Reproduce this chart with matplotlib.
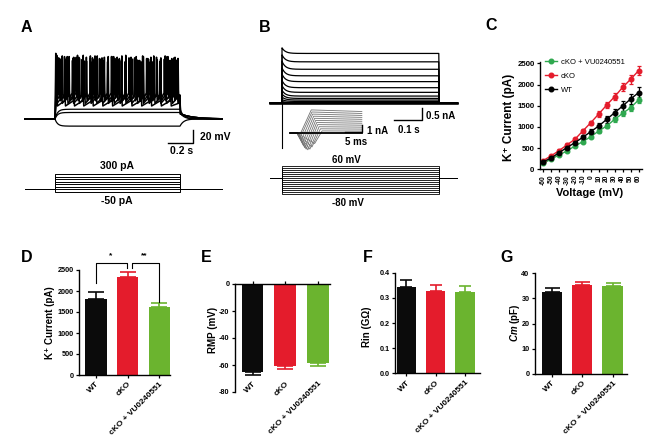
import numpy as np
import matplotlib.pyplot as plt
from matplotlib.lines import Line2D

plt.rcParams['font.family'] = ['Liberation Sans', 'DejaVu Sans']
plt.rcParams['font.weight'] = 'bold'
plt.rcParams['mathtext.fontset'] = 'custom'
plt.rcParams['mathtext.it'] = 'Liberation Sans:italic:bold'
plt.rcParams['mathtext.rm'] = 'Liberation Sans:bold'
plt.rcParams['axes.linewidth'] = 1.0

W, H = 666, 446
fig = plt.figure(figsize=(W / 100, H / 100), dpi=100)

# ---------------- data ----------------
groups = ['WT', 'cKO', 'cKO + VU0240551']
bar_colors = ['#0b0b0b', '#e41c2c', '#6bb42f']

# A: current clamp, steps of injected current (pA) and responses (mV)
a_steps_pA = [-50, 0, 50, 100, 150, 200, 250, 300]
a_rest_mV = -70
a_sub_mV = [-81, -60, -55]          # subthreshold responses
sp300_ms = [6, 30, 58, 84, 113, 140, 170, 196, 226, 252, 283, 310, 338, 367, 395, 421, 452, 479,
            508, 535, 565, 592, 620, 650, 677, 706, 733, 762, 790, 818, 847, 875, 903, 931, 960, 985]
pk300_mV = [31, 24, 27, 22, 26, 20, 25, 23, 28, 19, 24, 21, 27, 22, 25, 18, 26, 23,
            21, 27, 19, 24, 22, 26, 20, 25, 23, 18, 27, 21, 24, 22, 26, 20, 25, 23]
sp250_ms = [8, 40, 76, 110, 146, 180, 214, 251, 287, 320, 356, 392, 426, 461, 497, 531, 566,
            602, 637, 671, 707, 742, 776, 812, 846, 881, 917, 952, 983]
pk250_mV = [30, 22, 26, 19, 24, 28, 21, 25, 18, 27, 23, 20, 26, 22, 25, 19, 28,
            21, 24, 20, 26, 23, 18, 25, 22, 27, 20, 24, 23]
sp200_ms = [10, 52, 98, 143, 190, 236, 283, 329, 376, 422, 469, 515, 562, 608, 655, 701, 748,
            794, 841, 887, 934, 978]
pk200_mV = [29, 23, 26, 21, 25, 19, 27, 22, 24, 20, 26, 23, 18, 25, 21, 27, 22,
            24, 19, 26, 23, 21]
sp150_ms = [14, 78, 150, 224, 300, 377, 455, 532, 610, 688, 767, 845, 924]
pk150_mV = [28, 22, 25, 20, 24, 19, 26, 21, 23, 18, 25, 22, 20]
ahp_mV = [-38, -42, -46, -50]

# B: voltage clamp, steps (mV) and K+ currents (nA)
b_steps_mV = [-80, -70, -60, -50, -40, -30, -20, -10, 0, 10, 20, 30, 40, 50, 60]
b_ss_nA = [0.0, 0.0, 0.01, 0.03, 0.08, 0.14, 0.21, 0.31, 0.47, 0.67, 0.93, 1.18, 1.46, 1.78, 2.14]
b_peak_nA = [0.0, 0.0, 0.03, 0.08, 0.16, 0.27, 0.40, 0.56, 0.76, 0.98, 1.25, 1.52, 1.80, 2.08, 2.38]
b_cap_nA = -1.92
# B inset (first ms of the steps)
ins_plateau_nA = [3.3, 3.0, 2.7, 2.4, 2.1, 1.8, 1.5, 1.2, 0.9, 0.6, 0.3]
ins_dip_nA = [-0.3, -0.6, -1.0, -1.4, -1.8, -2.1, -2.3, -2.4, -2.3, -2.0, -1.5]
ins_dip_ms = [0.8, 1.0, 1.3, 1.6, 1.9, 2.3, 2.7, 3.2, 3.8, 4.4, 5.2]
ins_rise_ms = [4.2, 4.4, 4.6, 4.9, 5.2, 5.5, 5.8, 6.1, 6.5, 6.9, 7.4]

# C: I-V relationship
volt = [-60, -50, -40, -30, -20, -10, 0, 10, 20, 30, 40, 50, 60]
iv_wt = [180, 260, 393, 511, 629, 755, 888, 1022, 1179, 1336, 1494, 1659, 1808]
iv_wt_err = [25, 30, 35, 40, 45, 55, 60, 70, 80, 95, 110, 125, 140]
iv_ko = [204, 315, 440, 574, 708, 904, 1100, 1305, 1517, 1714, 1934, 2123, 2327]
iv_ko_err = [20, 25, 30, 35, 40, 45, 50, 60, 70, 80, 90, 100, 110]
iv_vu = [141, 236, 338, 432, 550, 652, 770, 904, 1022, 1179, 1320, 1454, 1635]
iv_vu_err = [20, 22, 25, 28, 30, 35, 40, 45, 50, 55, 60, 70, 80]

# D-G: bar summaries (mean, SEM)
k_mean = [1810, 2325, 1625]
k_sem = [165, 135, 90]
rmp_mean = [-65.5, -61.0, -58.7]
rmp_sem = [2.0, 2.2, 1.8]
rin_mean = [0.344, 0.326, 0.322]
rin_sem = [0.027, 0.027, 0.025]
cm_mean = [32.6, 35.4, 35.0]
cm_sem = [1.6, 1.3, 1.3]


# ---------------- helpers ----------------
def px_axes(x0, y0, x1, y1):
    return fig.add_axes([x0 / W, 1 - y1 / H, (x1 - x0) / W, (y1 - y0) / H])


def ftext(x, y, s, **kw):
    kw.setdefault('ha', 'center')
    kw.setdefault('va', 'center')
    fig.text(x / W, 1 - y / H, s, **kw)


def blank(ax):
    ax.set_axis_off()
    ax.patch.set_alpha(0)


# ---------------- A ----------------
a_t0, a_t1, a_tend = -0.24, 1.0, 1.336
axa = px_axes(15, 40, 235, 160)
blank(axa)
axa.set_xlim(-0.32, 1.44)
axa.set_ylim(-133.1, 51.5)

for lev in a_sub_mV:
    t1 = np.linspace(0, a_t1, 200)
    v1 = lev + (a_rest_mV - lev) * np.exp(-t1 / 0.02)
    t2 = np.linspace(a_t1, a_tend, 80)
    v2 = a_rest_mV + (v1[-1] - a_rest_mV) * np.exp(-(t2 - a_t1) / 0.03)
    axa.plot(np.r_[a_t0, 0, t1, t2], np.r_[a_rest_mV, a_rest_mV, v1, v2], color='k', lw=0.9)

spike_sets = [(sp150_ms, pk150_mV), (sp200_ms, pk200_mV), (sp250_ms, pk250_mV), (sp300_ms, pk300_mV)]
for (times, peaks), ahp in zip(spike_sets, ahp_mV[::-1]):
    thr = ahp + 8
    ts, vs = [a_t0, 0.0], [a_rest_mV, a_rest_mV]
    for tm, pk in zip(times, peaks, strict=True):
        t = tm / 1000
        ts += [t - 0.003, t, t + 0.003, t + 0.006]
        vs += [thr, pk, ahp + 12, ahp]
    ts.append(a_t1)
    vs.append(thr - 3)
    t2 = np.linspace(a_t1 + 0.004, a_tend, 80)
    v2 = a_rest_mV + (-62 - a_rest_mV) * np.exp(-(t2 - a_t1) / 0.1)
    axa.plot(np.r_[ts, t2], np.r_[vs, v2], color='k', lw=1.1)

axa.plot([0.904, 1.104, 1.104], [-106.9, -106.9, -86.9], color='k', lw=1)
ftext(200, 137, '20 mV', ha='left', fontsize=7.5)
ftext(181.5, 151, '0.2 s', fontsize=7.5)

axap = px_axes(15, 160, 235, 215)
blank(axap)
axap.set_xlim(-0.32, 1.44)
axap.set_ylim(-498, 572)
for lev in a_steps_pA:
    axap.plot([a_t0, 0, 0, a_t1, a_t1, a_tend], [0, 0, lev, lev, 0, 0], color='k', lw=0.7)
ftext(117, 166, '300 pA', fontsize=7.5)
ftext(117, 201.5, '-50 pA', fontsize=7.5)

# ---------------- B ----------------
b_t0, b_t1, b_tend = -0.042, 0.554, 0.62
axb = px_axes(262, 40, 465, 158)
blank(axb)
axb.set_xlim(-0.0707, 0.6466)
axb.set_ylim(-2.348, 2.717)
for ss, pk in zip(b_ss_nA, b_peak_nA):
    t1 = np.linspace(0, b_t1, 300)
    i1 = ss + (pk - ss) * np.exp(-t1 / 0.012)
    axb.plot(np.r_[b_t0, 0, t1, b_t1 + 0.002, b_tend], np.r_[0, 0, i1, 0, 0], color='k', lw=0.9)
axb.plot([0.001, 0.001], [0, b_cap_nA], color='k', lw=0.8)
axb.plot([b_t0, b_tend], [0, 0], color='k', lw=1.8)
axb.plot([0.3947, 0.4947, 0.4947], [-0.717, -0.717, -0.217], color='k', lw=1)
ftext(426, 116, '0.5 nA', ha='left', fontsize=7)
ftext(409, 130, '0.1 s', fontsize=7)

axi = px_axes(286, 106, 370, 152)
blank(axi)
axi.set_xlim(-3.24, 21.5)
axi.set_ylim(-2.714, 3.857)
for pl, dp, tdp, tr in zip(ins_plateau_nA, ins_dip_nA, ins_dip_ms, ins_rise_ms):
    axi.plot([-2, 0, tdp, tr, 19.1], [0, 0, dp, pl, pl * 0.93], color='0.45', lw=0.6)
axi.plot([-2, 19.1], [0, 0], color='k', lw=1.3)
axi.plot([14.1, 19.1, 19.1], [0.15, 0.15, 1.15], color='k', lw=1)
ftext(367, 131, '1 nA', ha='left', fontsize=7)
ftext(356, 142, '5 ms', fontsize=7)

axbp = px_axes(262, 158, 465, 210)
blank(axbp)
axbp.set_xlim(-0.0707, 0.6466)
axbp.set_ylim(-159.2, 98.2)
for lev in b_steps_mV:
    axbp.plot([b_t0, 0, 0, b_t1, b_t1, b_tend], [0, 0, lev, lev, 0, 0], color='k', lw=0.6)
ftext(346, 160, '60 mV', fontsize=7)
ftext(348, 203, '-80 mV', fontsize=7)

# ---------------- C ----------------
c_green = '#2fa84f'
c_red = '#e41c2c'
axc = px_axes(540, 62, 642, 169.3)
c_series = [(iv_vu, iv_vu_err, c_green, 'cKO + VU0240551'),
            (iv_ko, iv_ko_err, c_red, 'cKO'),
            (iv_wt, iv_wt_err, 'k', 'WT')]
for y, e, col, lab in c_series:
    axc.errorbar(volt, y, yerr=e, color=col, marker='o', ms=3.3, lw=1.0,
                 elinewidth=0.9, capsize=1.6, capthick=0.9)
axc.set_xlim(-63.8, 64.3)
axc.set_ylim(0, 2531)
axc.set_xticks(volt)
axc.set_xticklabels([str(v) for v in volt], rotation=90, fontsize=4.8)
axc.set_yticks([0, 500, 1000, 1500, 2000, 2500])
axc.tick_params(axis='y', labelsize=5.6)
axc.tick_params(length=2.5, width=0.9, pad=1.5)
axc.spines[['top', 'right']].set_visible(False)
handles = [Line2D([0], [0], color=c, marker='o', ms=3.3, lw=1) for _, _, c, _ in c_series]
axc.legend(handles, [s[3] for s in c_series], loc='upper left', bbox_to_anchor=(0.049, 1.03),
           frameon=False, prop={'size': 5.5, 'weight': 'normal'}, borderpad=0, borderaxespad=0,
           handlelength=1.6, handletextpad=0.5, labelspacing=0.85)
ftext(509, 117, 'K⁺ Current (pA)', rotation=90, fontsize=8.5)
ftext(590, 193, 'Voltage (mV)', fontsize=8)


# ---------------- D-G ----------------
def bar_panel(box, means, sems, xlim, ylim, yticks, ytl, capsize):
    ax = px_axes(*box)
    x = [0, 1, 2]
    ax.bar(x, means, width=0.67, color=bar_colors, zorder=2)
    for i in x:
        yerr = [[0], [sems[i]]] if means[i] >= 0 else [[sems[i]], [0]]
        ax.errorbar([i], [means[i]], yerr=yerr, fmt='none', ecolor=bar_colors[i],
                    elinewidth=1.2, capsize=capsize, capthick=1.2, zorder=1)
    ax.set_xlim(*xlim)
    ax.set_ylim(*ylim)
    ax.set_yticks(yticks)
    ax.set_yticklabels(ytl, fontsize=5.2)
    ax.set_xticks(x)
    ax.tick_params(length=2.5, width=0.9, pad=1.5)
    ax.spines[['top', 'right']].set_visible(False)
    return ax


def rot_labels(ax):
    ax.set_xticklabels(groups, rotation=45, ha='right', rotation_mode='anchor', fontsize=6)


axd = bar_panel((79, 270, 170, 375), k_mean, k_sem, (-0.536, 2.34), (0, 2500),
                [0, 500, 1000, 1500, 2000, 2500], ['0', '500', '1000', '1500', '2000', '2500'], 6)
rot_labels(axd)
br_y = 2674
axd.plot([0, 0, 0.97, 0.97], [2183, br_y, br_y, 2548], color='k', lw=0.8, clip_on=False)
axd.plot([1.13, 1.13, 2, 2], [2548, br_y, br_y, 1745], color='k', lw=0.8, clip_on=False)
axd.text(0.45, 2830, '*', ha='center', va='center', fontsize=6)
axd.text(1.52, 2830, '**', ha='center', va='center', fontsize=6)
ftext(50, 323, 'K⁺ Current (pA)', rotation=90, fontsize=7)

axe = bar_panel((235, 284, 330, 392), rmp_mean, rmp_sem, (-0.54, 2.38), (-80, 0),
                [-80, -60, -40, -20, 0], ['-80', '-60', '-40', '-20', '0'], 6)
axe.spines['bottom'].set_visible(False)
axe.spines['top'].set_visible(True)
axe.tick_params(axis='x', top=True, bottom=False, labelbottom=False, labeltop=False)
for i, g in enumerate(groups):
    axe.text(i, -71.1, g, rotation=45, ha='right', va='top', rotation_mode='anchor', fontsize=6)
ftext(213, 330, 'RMP (mV)', rotation=90, fontsize=7)

axf = bar_panel((395, 272.7, 480, 373.3), rin_mean, rin_sem, (-0.39, 2.52), (0, 0.4),
                [0, 0.1, 0.2, 0.3, 0.4], ['0.0', '0.1', '0.2', '0.3', '0.4'], 4.2)
rot_labels(axf)
ftext(367, 327, 'Rin (GΩ)', rotation=90, fontsize=7)

axg = bar_panel((535, 273.3, 626.7, 374), cm_mean, cm_sem, (-0.55, 2.46), (0, 40),
                [0, 10, 20, 30, 40], ['0', '10', '20', '30', '40'], 5.4)
rot_labels(axg)
ftext(515, 323, r'$\mathit{Cm}$ (pF)', rotation=90, fontsize=7)

# panel letters
for lab, (x, y) in zip('ABCDEFG', [(26.5, 27.5), (265, 27.5), (491.5, 26), (27, 258),
                                   (206, 257.5), (367.5, 258), (506.5, 257.5)]):
    ftext(x, y, lab, fontsize=11.5)

fig.savefig('out.png', dpi=100)
